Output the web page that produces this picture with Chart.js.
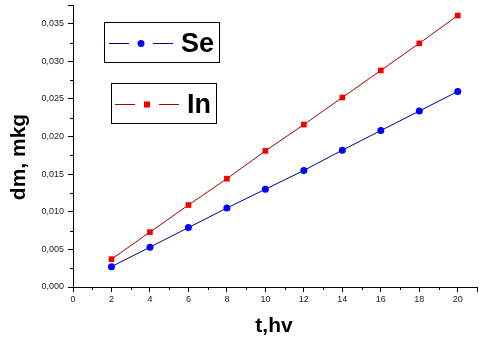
<!DOCTYPE html>
<html>
<head>
<meta charset="utf-8">
<script src="https://cdn.jsdelivr.net/npm/chart.js@4"></script>
<style>
  html, body { margin: 0; padding: 0; background: #fff; }
  #wrap { width: 497px; height: 348px; }
</style>
</head>
<body>
<div id="wrap"><canvas id="c" width="497" height="348"></canvas></div>
<script>
// data
const tHours = [2, 4, 6, 8, 10, 12, 14, 16, 18, 20];
const seMass = [0.0027, 0.0053, 0.0079, 0.0105, 0.0130, 0.0155, 0.0182, 0.0208, 0.0234, 0.0260];
const inMass = [0.0037, 0.0073, 0.0109, 0.0144, 0.0181, 0.0216, 0.0252, 0.0288, 0.0324, 0.0361];
const xMinorTicks = [1, 3, 5, 7, 9, 11, 13, 15, 17, 19, 21];
const yMinorTicks = [0.0025, 0.0075, 0.0125, 0.0175, 0.0225, 0.0275, 0.0325, 0.0375];

const toPoints = (xs, ys) => xs.map((x, i) => ({ x: x, y: ys[i] }));

// short minor ticks + titles + the two legend boxes
const decor = {
  id: 'decor',
  afterDraw(chart) {
    const c = chart.ctx;
    const xs = chart.scales.x, ys = chart.scales.y;
    const bottom = chart.chartArea.bottom, left = chart.chartArea.left;
    c.save();
    c.strokeStyle = '#000';
    c.lineWidth = 1;
    c.beginPath();
    xMinorTicks.forEach(v => {
      const px = Math.round(xs.getPixelForValue(v)) + 0.5;
      c.moveTo(px, bottom);
      c.lineTo(px, bottom + 3);
    });
    yMinorTicks.forEach(v => {
      const py = Math.round(ys.getPixelForValue(v)) + 0.5;
      c.moveTo(left, py);
      c.lineTo(left - 3, py);
    });
    c.stroke();

    // axis titles
    c.fillStyle = '#000';
    c.font = 'bold 21px "Liberation Sans", Arial, sans-serif';
    c.textAlign = 'center';
    c.textBaseline = 'middle';
    c.fillText('t,hv', 274, 326);
    c.save();
    c.translate(19, 157);
    c.rotate(-Math.PI / 2);
    c.fillText('dm, mkg', 0, 0);
    c.restore();

    // legend boxes
    const boxes = [
      { x: 104.5, y: 22.5, w: 115, h: 40, label: 'Se', line: '#00008b', mark: '#0000ff', shape: 'circle', lx: 109, tx: 181 },
      { x: 111.5, y: 83.5, w: 105, h: 40, label: 'In', line: '#a00000', mark: '#ee0000', shape: 'rect', lx: 115, tx: 187 }
    ];
    boxes.forEach(b => {
      c.strokeStyle = '#000';
      c.lineWidth = 1;
      c.strokeRect(b.x, b.y, b.w, b.h);
      const cy = Math.round(b.y + b.h / 2) + 0.5;
      c.strokeStyle = b.line;
      c.beginPath();
      c.moveTo(b.lx, cy); c.lineTo(b.lx + 20, cy);
      c.moveTo(b.lx + 44, cy); c.lineTo(b.lx + 64, cy);
      c.stroke();
      c.fillStyle = b.mark;
      if (b.shape === 'circle') {
        c.beginPath();
        c.arc(b.lx + 32, cy, 3.5, 0, Math.PI * 2);
        c.fill();
      } else {
        c.fillRect(b.lx + 29, cy - 3, 6, 6);
      }
      c.fillStyle = '#000';
      c.font = 'bold 27px "Liberation Sans", Arial, sans-serif';
      c.textAlign = 'left';
      c.textBaseline = 'middle';
      c.fillText(b.label, b.tx, cy + 1);
    });
    c.restore();
  }
};

new Chart(document.getElementById('c'), {
  type: 'line',
  data: {
    datasets: [
      {
        label: 'Se',
        data: toPoints(tHours, seMass),
        borderColor: '#00008b',
        borderWidth: 1,
        pointStyle: 'circle',
        pointRadius: 3.5,
        pointBackgroundColor: '#0000ff',
        pointBorderColor: '#0000ff',
        pointBorderWidth: 0
      },
      {
        label: 'In',
        data: toPoints(tHours, inMass),
        borderColor: '#a00000',
        borderWidth: 1,
        pointStyle: 'rect',
        pointRadius: 4,
        pointBackgroundColor: '#ee0000',
        pointBorderColor: '#ee0000',
        pointBorderWidth: 0
      }
    ]
  },
  options: {
    responsive: false,
    animation: false,
    layout: { padding: { top: 5, right: 20, left: 0, bottom: 0 } },
    plugins: { legend: { display: false }, tooltip: { enabled: false } },
    scales: {
      x: {
        type: 'linear',
        min: 0,
        max: 21,
        afterFit: s => { s.height = 61; s.paddingRight = 0; },
        border: { color: '#000', width: 1 },
        grid: { drawOnChartArea: false, tickLength: 5, tickColor: '#000' },
        ticks: {
          stepSize: 2,
          padding: 2,
          color: '#222',
          font: { size: 9, family: '"Liberation Sans", Arial, sans-serif' },
          maxRotation: 0,
          callback: v => (v % 2 === 0 && v <= 20) ? String(v) : ''
        }
      },
      y: {
        min: 0,
        max: 0.0375,
        afterFit: s => { s.width = 73; s.paddingTop = 0; },
        border: { color: '#000', width: 1 },
        grid: { drawOnChartArea: false, tickLength: 5, tickColor: '#000' },
        ticks: {
          stepSize: 0.005,
          padding: 4,
          color: '#222',
          font: { size: 9, family: '"Liberation Sans", Arial, sans-serif' },
          callback: v => (Math.abs(v / 0.005 - Math.round(v / 0.005)) < 1e-6) ? v.toFixed(3).replace('.', ',') : ''
        }
      }
    }
  },
  plugins: [decor]
});
</script>
</body>
</html>
